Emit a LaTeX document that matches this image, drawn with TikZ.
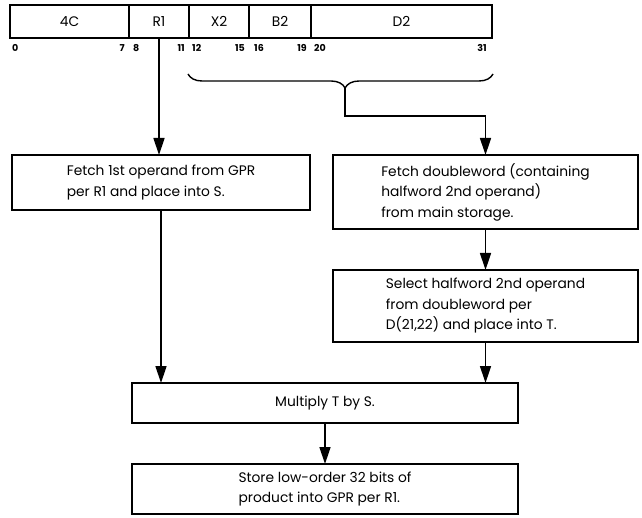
\documentclass[tikz,border=0pt]{standalone}
\usepackage{fontspec}
\setmainfont{Poppins}
\usetikzlibrary{arrows.meta,decorations.pathreplacing}
\begin{document}
\begin{tikzpicture}[x=1pt, y=-1pt, font=\fontsize{13.8}{20.5}\selectfont,
  fld/.style={draw, line width=1.8pt, minimum height=33pt, inner sep=0pt, outer sep=0pt},
  bit/.style={font=\fontsize{9.5}{10}\selectfont\bfseries, inner sep=0pt},
  blk/.style={draw, line width=1.8pt, align=left, inner sep=0pt, outer sep=0pt},
  arr/.style={line width=1.4pt, -{Triangle[width=11pt,length=17pt]}}]
\useasboundingbox (0,0) rectangle (642,518);
% RX instruction format
\node[fld, minimum width=119pt] (op) at (69.5,21.5) {4C};
\node[fld, minimum width=60pt] (r1) at (159,21.5) {R1};
\node[fld, minimum width=60pt] (x2) at (219,21.5) {X2};
\node[fld, minimum width=62pt] (b2) at (280,21.5) {B2};
\node[fld, minimum width=181pt] (d2) at (401.5,21.5) {D2};
\node[bit, anchor=west] (n0) at (12,48) {0};
\node[bit, anchor=east] (n7) at (125,48) {7};
\node[bit, anchor=west] (n8) at (133,48) {8};
\node[bit, anchor=east] (n11) at (185,48) {11};
\node[bit, anchor=west] (n12) at (192,48) {12};
\node[bit, anchor=east] (n15) at (245,48) {15};
\node[bit, anchor=west] (n16) at (254,48) {16};
\node[bit, anchor=east] (n19) at (307,48) {19};
\node[bit, anchor=west] (n20) at (314,48) {20};
\node[bit, anchor=east] (n31) at (487,48) {31};
% operation blocks
\node[blk, minimum width=298pt, minimum height=55pt] (fetchA) at (161,182.5)
  {Fetch 1st operand from GPR\\per R1 and place into S.};
\node[blk, minimum width=305pt, minimum height=74pt] (fetchB) at (485.5,192)
  {Fetch doubleword (containing\\halfword 2nd operand)\\from main storage.};
\node[blk, minimum width=305pt, minimum height=72pt] (sel) at (485.5,306)
  {Select halfword 2nd operand\\from doubleword per\\D(21,22) and place into T.};
\node[blk, minimum width=386pt, minimum height=40pt] (mult) at (325,403) {Multiply T by S.};
\node[blk, minimum width=386pt, minimum height=50pt] (store) at (325,489)
  {Store low-order 32 bits of\\product into GPR per R1.};
% brace over X2, B2, D2
\draw[line width=1.4pt, decorate, decoration={brace, mirror, amplitude=14pt, aspect=0.515}]
  (188,74) -- (493,74);
\coordinate (tip) at (345,88);
\coordinate (jog) at (345,116);
\draw[arr] (tip) -- (jog) -| (fetchB);
\draw[arr] (r1) -- (r1 |- fetchA.north);
\draw[arr] (fetchA) -- (fetchA |- mult.north);
\draw[arr] (fetchB) -- (sel);
\draw[arr] (sel) -- (sel |- mult.north);
\draw[arr] (mult) -- (store);
\end{tikzpicture}
\end{document}
